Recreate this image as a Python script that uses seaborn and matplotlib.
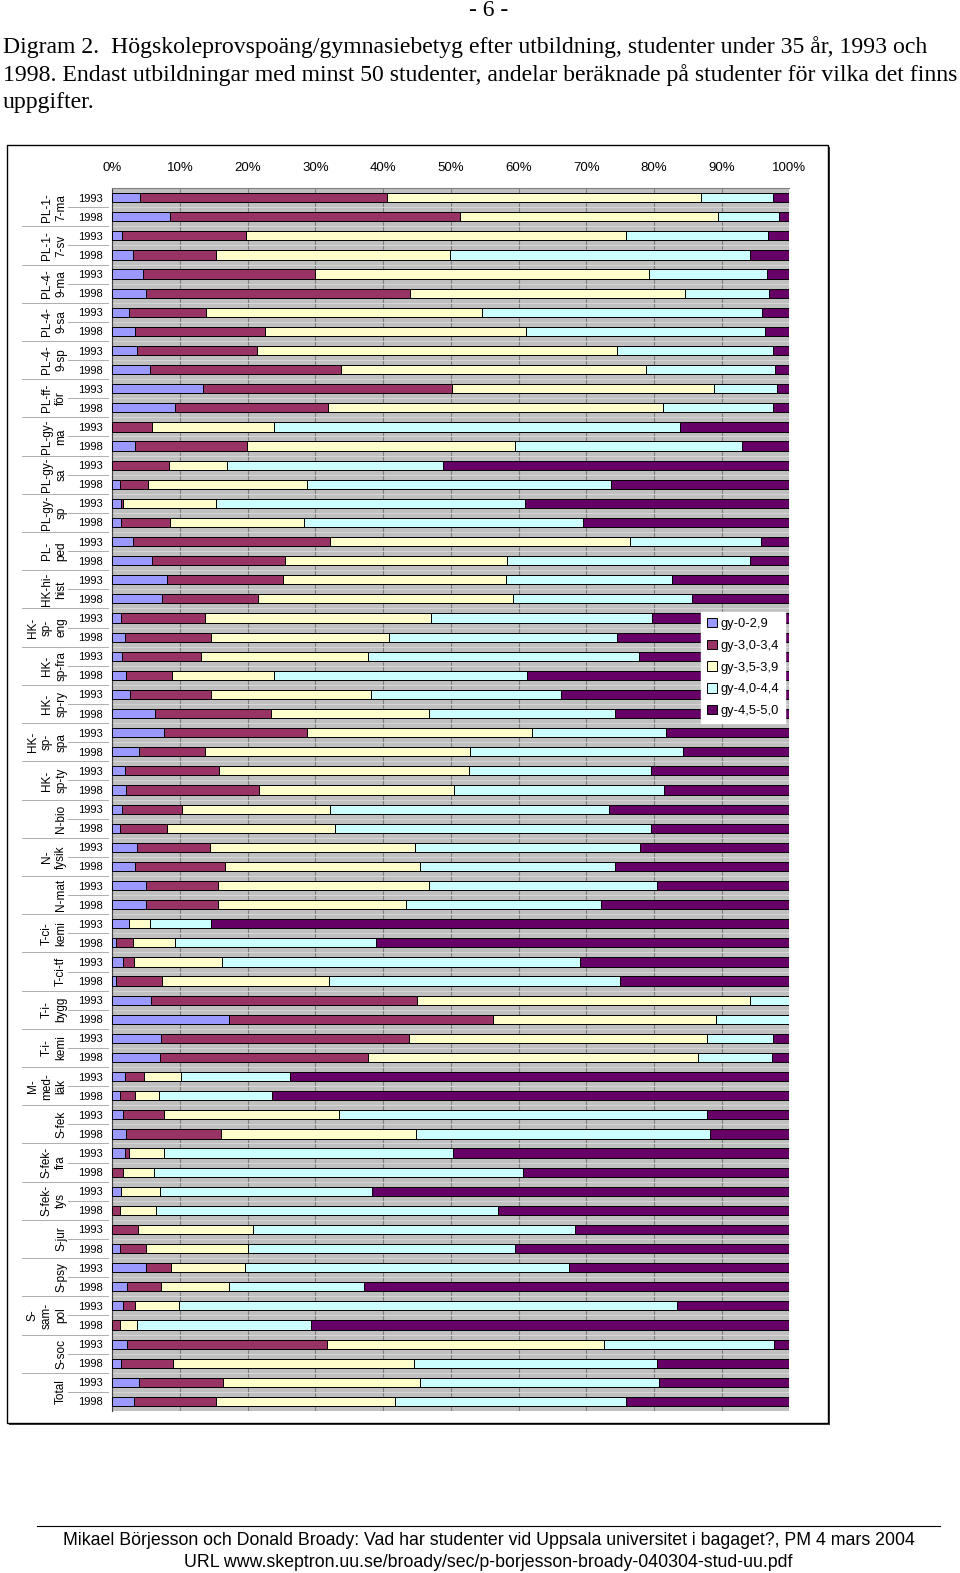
import matplotlib
matplotlib.use("Agg")
import matplotlib.pyplot as plt
from matplotlib.patches import Rectangle
from matplotlib.lines import Line2D
import pandas as pd
import seaborn as sns

# one entry per bar, top to bottom (1993, 1998 for every programme)
groups = ["PL-1-\n7-ma", "PL-1-\n7-sv", "PL-4-\n9-ma", "PL-4-\n9-sa", "PL-4-\n9-sp",
          "PL-ff-\nför", "PL-gy-\nma", "PL-gy-\nsa", "PL-gy-\nsp", "PL-\nped",
          "HK-hi-\nhist", "HK-\nsp-\neng", "HK-\nsp-fra", "HK-\nsp-ry", "HK-\nsp-\nspa",
          "HK-\nsp-ty", "N-bio", "N-\nfysik", "N-mat", "T-ci-\nkemi", "T-ci-tf",
          "T-i-\nbygg", "T-i-\nkemi", "M-\nmed-\nläk", "S-fek", "S-fek-\nfra",
          "S-fek-\ntys", "S-jur", "S-psy", "S-\nsam-\npol", "S-soc", "Total"]
years = ["1993", "1998"]

series_names = ["gy-0-2,9", "gy-3,0-3,4", "gy-3,5-3,9", "gy-4,0-4,4", "gy-4,5-5,0"]
colors = ["#9999FF", "#993366", "#FFFFCC", "#CCFFFF", "#660066"]

gy_0_29 = [4.1, 8.5, 1.4, 3.0, 4.5, 5.0, 2.4, 3.4, 3.6, 5.6, 13.4, 9.2, 0, 3.4, 0, 1.2,
           1.3, 1.3, 3.1, 5.8, 8.0, 7.3, 1.3, 1.9, 1.4, 2.0, 2.6, 6.3, 7.6, 4.0, 1.8, 2.0,
           1.4, 1.1, 3.6, 3.4, 4.9, 4.9, 2.4, 0.5, 1.6, 0.5, 5.7, 17.2, 7.2, 7.0, 1.8, 1.2,
           1.6, 2.0, 1.8, 0, 1.3, 0, 0, 1.1, 5.0, 2.2, 1.6, 0, 2.2, 1.3, 3.9, 3.2]
gy_30_34 = [36.5, 42.8, 18.3, 12.3, 25.4, 39.0, 11.4, 19.2, 17.8, 28.2, 36.8, 22.7, 5.9, 16.5, 8.4, 4.0,
            0.2, 7.2, 29.1, 19.7, 17.2, 14.2, 12.4, 12.7, 11.7, 6.8, 11.9, 17.1, 21.1, 9.7, 13.9, 19.6,
            8.9, 6.9, 10.8, 13.2, 10.7, 10.7, 0, 2.6, 1.6, 6.9, 39.3, 39.0, 36.6, 30.7, 2.9, 2.2,
            6.0, 14.1, 0.6, 1.6, 0, 1.1, 3.8, 3.9, 3.6, 5.0, 1.7, 1.1, 29.5, 7.7, 12.5, 12.1]
gy_35_39 = [46.4, 38.2, 56.1, 34.6, 49.4, 40.6, 40.8, 38.5, 53.1, 45.0, 38.7, 49.4, 17.9, 39.6, 8.6, 23.6,
            13.8, 19.8, 44.3, 32.8, 33.0, 37.7, 33.3, 26.3, 24.6, 15.0, 23.7, 23.3, 33.3, 39.1, 37.0, 28.9,
            21.8, 24.9, 30.3, 28.8, 31.1, 27.8, 3.2, 6.1, 13.0, 24.6, 49.1, 32.9, 44.0, 48.8, 5.5, 3.5,
            25.8, 28.7, 5.3, 4.5, 5.7, 5.3, 17.0, 15.0, 11.0, 10.0, 6.6, 2.5, 40.9, 35.6, 29.0, 26.4]
gy_40_44 = [10.5, 9.0, 21.1, 44.3, 17.4, 12.4, 41.3, 35.3, 23.1, 19.0, 9.3, 16.3, 60.1, 33.5, 31.9, 44.8,
            45.7, 41.2, 19.3, 35.8, 24.5, 26.4, 32.7, 33.7, 40.1, 37.4, 28.1, 27.6, 19.8, 31.5, 26.9, 30.9,
            41.3, 46.7, 33.2, 28.9, 33.7, 28.8, 9.0, 29.7, 52.9, 43.0, 5.9, 10.9, 9.8, 10.9, 16.1, 16.7,
            54.4, 43.4, 42.6, 54.6, 31.4, 50.5, 47.5, 39.4, 47.8, 20.0, 73.5, 25.7, 25.1, 35.8, 35.3, 34.2]
gy_45_50 = [2.5, 1.5, 3.1, 5.8, 3.3, 3.0, 4.1, 3.6, 2.4, 2.2, 1.8, 2.4, 16.1, 7.0, 51.1, 26.4,
            39.0, 30.5, 4.2, 5.9, 17.3, 14.4, 20.3, 25.4, 22.2, 38.8, 33.7, 25.7, 18.2, 15.7, 20.4, 18.6,
            26.6, 20.4, 22.1, 25.7, 19.6, 27.8, 85.4, 61.1, 30.9, 25.0, 0, 0, 2.4, 2.6, 73.7, 76.4,
            12.2, 11.8, 49.7, 39.3, 61.6, 43.1, 31.7, 40.6, 32.6, 62.8, 16.6, 70.7, 2.3, 19.6, 19.3, 24.1]

PW, PH = 957, 1568


def fx(px):
    return px / PW


def fy(py):
    return 1 - py / PH


serif = "Liberation Serif"
sans = "Liberation Sans"
plt.rcParams["font.family"] = sans

df = pd.DataFrame({"bar": [str(i) for i in range(len(gy_0_29))]})
segs = [gy_0_29, gy_30_34, gy_35_39, gy_40_44, gy_45_50]
cum = [0.0] * len(df)
for k, s in enumerate(segs):
    cum = [c + v for c, v in zip(cum, s)]
    df["cum%d" % k] = cum

fig = plt.figure(figsize=(9.6, 15.73), dpi=100)

# chart frame with a little shadow
fig.patches.append(Rectangle((fx(9), fy(1420)), fx(818), 1273 / PH, transform=fig.transFigure,
                             facecolor="#404040", edgecolor="none", zorder=-2))
fig.patches.append(Rectangle((fx(7), fy(1418)), fx(818), 1273 / PH, transform=fig.transFigure,
                             facecolor="white", edgecolor="black", lw=1.0, zorder=-1))

ax = fig.add_axes([fx(112), fy(1406.5), fx(675), 1219 / PH])
ax.set_facecolor("#C0C0C0")

order = list(df["bar"])
for k in range(4, -1, -1):
    sns.barplot(data=df, x="cum%d" % k, y="bar", order=order, orient="h", color=colors[k],
                saturation=1, edgecolor="black", linewidth=0.7, width=0.48, errorbar=None,
                label=series_names[k], ax=ax, zorder=3)

ax.set_xlim(0, 100)
ax.set_ylim(63.5, -0.5)
ax.set_xlabel("")
ax.set_ylabel("")
ax.set_axisbelow(True)
ax.xaxis.grid(True, color="#808080", lw=0.8)
for i in range(63):
    ax.axhline(i + 0.5, color="#D6D6D6", lw=0.7, zorder=1)

ax.xaxis.tick_top()
ax.set_xticks(range(0, 101, 10))
ax.set_xticklabels(["%d%%" % v for v in range(0, 101, 10)], fontsize=9.5)
ax.tick_params(axis="x", length=0, pad=10.5)
ax.set_yticks(range(len(df)))
ax.set_yticklabels(years * len(groups), fontsize=8)
ax.tick_params(axis="y", length=0, pad=6.5)
for side in ["right", "bottom"]:
    ax.spines[side].set_visible(False)
ax.spines["top"].set_color("#808080")
ax.spines["left"].set_color("#404040")
ax.spines["left"].set_linewidth(0.8)

# programme labels and separators left of the axis
tr = ax.get_yaxis_transform()
for g, name in enumerate(groups):
    ax.text((67 - 112) / 675, 2 * g + 0.5, name, transform=tr, rotation=90, ha="right",
            va="center", multialignment="center", fontsize=8.5, linespacing=1.25)
    ax.add_line(Line2D([(68 - 112) / 675, (108 - 112) / 675], [2 * g + 0.5] * 2, transform=tr,
                       color="#A0A0A0", lw=0.6, clip_on=False))
    if g < len(groups) - 1:
        ax.add_line(Line2D([(22 - 112) / 675, (108 - 112) / 675], [2 * g + 1.5] * 2, transform=tr,
                           color="#A0A0A0", lw=0.6, clip_on=False))

handles, labels = ax.get_legend_handles_labels()
leg = ax.legend(handles[::-1], labels[::-1], loc="upper left",
                bbox_to_anchor=(fx(699), fy(610)), bbox_transform=fig.transFigure,
                fontsize=9.3, frameon=True, fancybox=False, framealpha=1, edgecolor="white",
                facecolor="white", handlelength=0.75, handleheight=0.75, handletextpad=0.3,
                labelspacing=0.74, borderpad=0.45, borderaxespad=0)
leg.set_zorder(10)

# page text
fig.text(fx(487), fy(10), "- 6 -", family=serif, fontsize=17, ha="center", va="center")
title = ["Digram 2.  Högskoleprovspoäng/gymnasiebetyg efter utbildning, studenter under 35 år, 1993 och",
         "1998. Endast utbildningar med minst 50 studenter, andelar beräknade på studenter för vilka det finns",
         "uppgifter."]
for i, line in enumerate(title):
    fig.text(fx(3), fy(53 + 27.5 * i), line, family=serif, fontsize=17.1, ha="left", va="baseline")

fig.add_artist(Line2D([fx(37), fx(937)], [fy(1521)] * 2, transform=fig.transFigure,
                      color="black", lw=0.8))
fig.text(fx(487), fy(1536), "Mikael Börjesson och Donald Broady: Vad har studenter vid Uppsala "
         "universitet i bagaget?, PM 4 mars 2004", fontsize=12.8, ha="center", va="center")
fig.text(fx(487), fy(1558), "URL www.skeptron.uu.se/broady/sec/p-borjesson-broady-040304-stud-uu.pdf",
         fontsize=12.8, ha="center", va="center")

fig.savefig("out.png", dpi=100)
